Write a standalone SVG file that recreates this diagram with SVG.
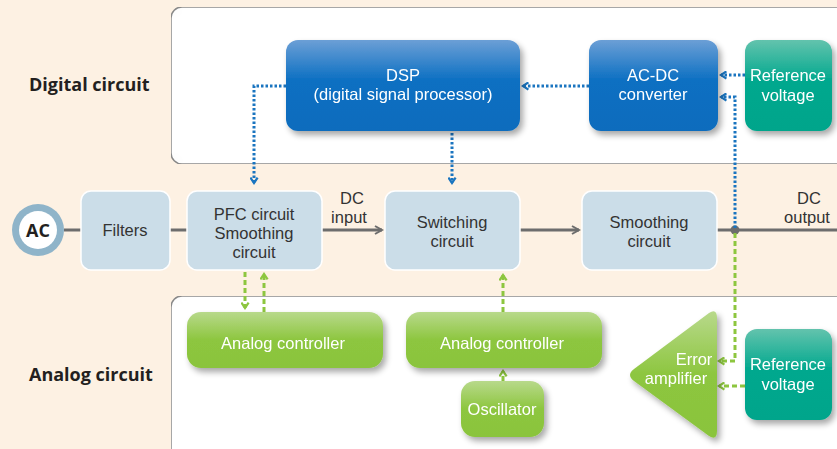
<svg xmlns="http://www.w3.org/2000/svg" width="837" height="449" viewBox="0 0 837 449">
<defs>
<style>
.lbl{font-family:"Open Sans","Liberation Sans",sans-serif;font-weight:bold;font-size:18px;fill:#231f20}
.t{font-family:"Liberation Sans",Arial,sans-serif;font-size:16.5px;text-anchor:middle}
.dk{fill:#333}
.wh{fill:#fff}
.blk{fill:#cbdde8;stroke:#fff;stroke-width:1.5}
.main{stroke:#6d6d6d;stroke-width:3;fill:none}
.dot{stroke:#1a75c0;stroke-width:3;stroke-dasharray:2.5 2;fill:none}
.dash{stroke:#8dc63f;stroke-width:3;stroke-dasharray:5 3;fill:none}
.panel{fill:#fff;stroke:#8a8a8a;stroke-width:1.5}
</style>
<linearGradient id="gBlue" x1="0" y1="0" x2="0" y2="1">
<stop offset="0" stop-color="#6c9fd6"/><stop offset="0.45" stop-color="#0a6fc2"/><stop offset="1" stop-color="#0b6cbd"/>
</linearGradient>
<linearGradient id="gTeal" x1="0" y1="0" x2="0" y2="1">
<stop offset="0" stop-color="#63c3ad"/><stop offset="0.45" stop-color="#00a88e"/><stop offset="1" stop-color="#00a58b"/>
</linearGradient>
<linearGradient id="gGreen" x1="0" y1="0" x2="0" y2="1">
<stop offset="0" stop-color="#b8d98b"/><stop offset="0.5" stop-color="#8dc63f"/><stop offset="1" stop-color="#8ac43d"/>
</linearGradient>
<filter id="sh" x="-10%" y="-10%" width="130%" height="140%">
<feGaussianBlur in="SourceAlpha" stdDeviation="3"/>
<feOffset dx="3" dy="4" result="b"/>
<feComponentTransfer><feFuncA type="linear" slope="0.35"/></feComponentTransfer>
<feMerge><feMergeNode/><feMergeNode in="SourceGraphic"/></feMerge>
</filter>
<filter id="inner" x="0" y="0" width="100%" height="100%">
<feFlood flood-color="#000" flood-opacity="0.28"/>
<feComposite in2="SourceAlpha" operator="out"/>
<feGaussianBlur stdDeviation="6"/>
<feComposite in2="SourceAlpha" operator="in" result="s"/>
<feMerge><feMergeNode in="SourceGraphic"/><feMergeNode in="s"/></feMerge>
</filter>
<marker id="aGray" viewBox="0 0 10 10" refX="8" refY="5" markerWidth="10" markerHeight="10" markerUnits="userSpaceOnUse" orient="auto">
<path d="M1,1 L8,5 L1,9" fill="none" stroke="#6d6d6d" stroke-width="2"/>
</marker>
<marker id="aBlue" viewBox="0 0 10 10" refX="8" refY="5" markerWidth="9" markerHeight="9" markerUnits="userSpaceOnUse" orient="auto">
<path d="M2,1 L8,5 L2,9" fill="none" stroke="#1a75c0" stroke-width="2.5"/>
</marker>
<marker id="aGreen" viewBox="0 0 10 10" refX="8" refY="5" markerWidth="9" markerHeight="9" markerUnits="userSpaceOnUse" orient="auto">
<path d="M2,1 L8,5 L2,9" fill="none" stroke="#8dc63f" stroke-width="2.5"/>
</marker>
</defs>
<rect width="837" height="449" fill="#fdf1e3"/>

<g id="digital-panel">
<rect class="panel" x="171" y="7" width="680" height="157" rx="11" filter="url(#inner)"/>
<text class="lbl" x="29" y="91">Digital circuit</text>
</g>
<g id="analog-panel">
<rect class="panel" x="171" y="296" width="680" height="170" rx="11" filter="url(#inner)"/>
<text class="lbl" x="29" y="381">Analog circuit</text>
</g>

<g id="connectors">
<line class="main" x1="64" y1="230" x2="81" y2="230"/>
<line class="main" x1="170" y1="230" x2="187" y2="230"/>
<line class="main" x1="322" y1="230" x2="382" y2="230" marker-end="url(#aGray)"/>
<line class="main" x1="520" y1="230" x2="579" y2="230" marker-end="url(#aGray)"/>
<line class="main" x1="717" y1="230" x2="837" y2="230"/>
<circle cx="735" cy="230" r="4.5" fill="#6d6d6d"/>
<path class="dot" d="M286,86 H254 V183" marker-end="url(#aBlue)"/>
<path class="dot" d="M452,133 V183" marker-end="url(#aBlue)"/>
<path class="dot" d="M589,86 H523" marker-end="url(#aBlue)"/>
<path class="dot" d="M745,75 H721" marker-end="url(#aBlue)"/>
<path class="dot" d="M735,228 V97 H721" marker-end="url(#aBlue)"/>
<path class="dash" d="M245,272 V308" marker-end="url(#aGreen)"/>
<path class="dash" d="M264,312 V274" marker-end="url(#aGreen)"/>
<path class="dash" d="M503,312 V275" marker-end="url(#aGreen)"/>
<path class="dash" d="M503,381 V371" marker-end="url(#aGreen)"/>
<path class="dash" d="M735,233 V361 H719" marker-end="url(#aGreen)"/>
<path class="dash" d="M745,386 H719" marker-end="url(#aGreen)"/>
</g>

<g id="dsp" filter="url(#sh)">
<rect x="286" y="40" width="234" height="91" rx="12" fill="url(#gBlue)"/>
<text class="t wh" x="403" y="81">DSP</text>
<text class="t wh" x="403" y="100">(digital signal processor)</text>
</g>
<g id="acdc" filter="url(#sh)">
<rect x="589" y="40" width="129" height="91" rx="12" fill="url(#gBlue)"/>
<text class="t wh" x="653" y="81">AC-DC</text>
<text class="t wh" x="653" y="100">converter</text>
</g>
<g id="ref-top" filter="url(#sh)">
<rect x="745" y="40" width="87" height="91" rx="12" fill="url(#gTeal)"/>
<text class="t wh" x="788" y="81">Reference</text>
<text class="t wh" x="788" y="101">voltage</text>
</g>

<g id="ac">
<circle cx="38" cy="230" r="26" fill="#8fb4c9"/>
<circle cx="38" cy="230" r="19" fill="#fff"/>
<text class="t dk" x="38" y="237" style="font-family:'Open Sans',sans-serif;font-weight:bold;font-size:18px;fill:#231f20">AC</text>
</g>
<g id="filters">
<rect class="blk" x="81" y="191" width="89" height="79" rx="10"/>
<text class="t dk" x="125" y="236">Filters</text>
</g>
<g id="pfc">
<rect class="blk" x="187" y="191" width="135" height="79" rx="10"/>
<text class="t dk" x="254" y="220">PFC circuit</text>
<text class="t dk" x="254" y="239">Smoothing</text>
<text class="t dk" x="254" y="258">circuit</text>
</g>
<g id="dc-input">
<text class="t dk" x="352" y="204">DC</text>
<text class="t dk" x="349" y="223">input</text>
</g>
<g id="switching">
<rect class="blk" x="385" y="191" width="135" height="79" rx="10"/>
<text class="t dk" x="452" y="228">Switching</text>
<text class="t dk" x="452" y="247">circuit</text>
</g>
<g id="smoothing">
<rect class="blk" x="582" y="191" width="135" height="79" rx="10"/>
<text class="t dk" x="649" y="228">Smoothing</text>
<text class="t dk" x="649" y="247">circuit</text>
</g>
<g id="dc-output">
<text class="t dk" x="809" y="204">DC</text>
<text class="t dk" x="807" y="223">output</text>
</g>

<g id="analog1" filter="url(#sh)">
<rect x="187" y="312" width="196" height="56" rx="14" fill="url(#gGreen)"/>
<text class="t wh" x="283" y="349">Analog controller</text>
</g>
<g id="analog2" filter="url(#sh)">
<rect x="406" y="312" width="196" height="56" rx="14" fill="url(#gGreen)"/>
<text class="t wh" x="502" y="349">Analog controller</text>
</g>
<g id="oscillator" filter="url(#sh)">
<rect x="461" y="381" width="83" height="56" rx="14" fill="url(#gGreen)"/>
<text class="t wh" x="502" y="415">Oscillator</text>
</g>
<g id="error-amp" filter="url(#sh)">
<path d="M709,313 Q717,308 717,318 V431 Q717,441 709,436 L634,381 Q626,375 634,369 Z" fill="url(#gGreen)"/>
<text class="t wh" x="694" y="365">Error</text>
<text class="t wh" x="676" y="384">amplifier</text>
</g>
<g id="ref-bottom" filter="url(#sh)">
<rect x="745" y="329" width="87" height="91" rx="12" fill="url(#gTeal)"/>
<text class="t wh" x="788" y="370">Reference</text>
<text class="t wh" x="788" y="390">voltage</text>
</g>
</svg>
